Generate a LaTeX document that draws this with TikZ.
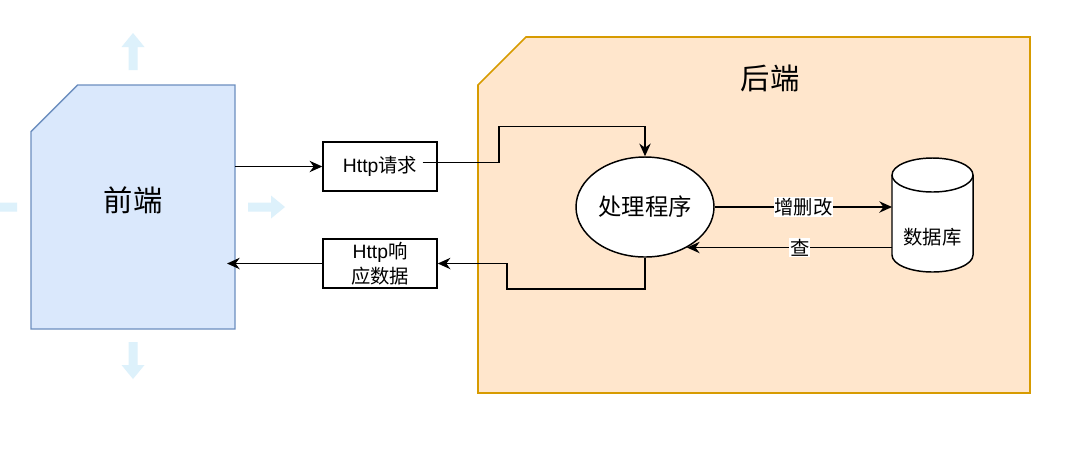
\documentclass[tikz,border=0pt]{standalone}
\usepackage{fontspec}
\setmainfont{Liberation Sans}
\newfontfamily\cjk{Noto Sans CJK SC}
\usetikzlibrary{shapes.geometric, arrows.meta, calc}
\usepackage{xcolor}
\definecolor{FrontFill}{HTML}{DAE8FC}
\definecolor{FrontLine}{HTML}{6C8EBF}
\definecolor{BackFill}{HTML}{FFE6CC}
\definecolor{BackLine}{HTML}{D79B00}
\definecolor{HoverBlue}{HTML}{DDF1FB}
\tikzset{
    % Card styles - one corner cut off
    cardspace/.style={
        rectangle,
        inner sep=0pt,
        outer sep=0pt
    },
    frontcard/.style={
        draw=FrontLine,
        fill=FrontFill,
        line width=1pt
    },
    backcard/.style={
        draw=BackLine,
        fill=BackFill,
        line width=1.2pt
    },
    title/.style={
        font={\cjk\fontsize{22}{26}\selectfont}
    },
    % Box styles
    message/.style={
        rectangle,
        draw=black,
        fill=white,
        line width=1.1pt,
        minimum width=85.5pt,
        minimum height=36.75pt,
        inner sep=1pt,
        align=center,
        font={\fontsize{14.5}{18.75}\selectfont}
    },
    handler/.style={
        ellipse,
        draw=black,
        fill=white,
        line width=1.1pt,
        minimum width=103.5pt,
        minimum height=75pt,
        inner sep=0pt,
        font={\cjk\fontsize{17.5}{21}\selectfont}
    },
    storage/.style={
        rectangle,
        minimum width=60.75pt,
        minimum height=85.5pt,
        inner sep=0pt,
        outer sep=0pt
    },
    plaintext/.style={
        font={\cjk\fontsize{14.5}{18}\selectfont}
    },
    edgelabel/.style={
        fill=white,
        inner sep=0.5pt,
        font={\cjk\fontsize{14.5}{18}\selectfont}
    },
    % Arrow styles
    arrow/.style={
        -{Stealth[length=9.5pt, width=8.5pt]},
        line width=1.15pt,
        draw=black
    },
    hoverarrow/.style={
        fill=HoverBlue
    }
}
\begin{document}
\begin{tikzpicture}[x=0.75pt, y=-0.75pt]
    \useasboundingbox[fill=white] (0,0) rectangle (1080,455);

    % back-end card
    \node[cardspace, minimum width=414pt, minimum height=267pt] (back) at (754,215) {};
    \filldraw[backcard] ([yshift=-36pt]back.north west) -- ([xshift=36pt]back.north west)
        -- (back.north east) -- (back.south east) -- (back.south west) -- cycle;
    \node[title] (backtitle) at (770,78) {后端};

    % editor hover arrows round the front card
    \foreach \pos/\ang in {{(133,70)}/90, {(248,207)}/0, {(133,342)}/-90, {(17,207)}/180}
        \fill[hoverarrow, shift={\pos}, rotate=\ang]
            (0,-4.5) -- (23,-4.5) -- (23,-11.5) -- (37,0) -- (23,11.5) -- (23,4.5) -- (0,4.5) -- cycle;

    % front-end card
    \node[cardspace, minimum width=153pt, minimum height=183pt] (front) at (133,207) {};
    \filldraw[frontcard] ([yshift=-35pt]front.north west) -- ([xshift=35pt]front.north west)
        -- (front.north east) -- (front.south east) -- (front.south west) -- cycle;
    \node[title] (frontname) at (133,200) {前端};

    \node[message] (req) at (380,166.5) {Http{\cjk 请求}};
    \node[message] (resp) at (380,263.5) {Http{\cjk 响}\\{\cjk 应数据}};

    \node[handler] (proc) at (645,207) {处理程序};

    % database cylinder
    \node[storage] (db) at (932.5,215) {};
    \draw[line width=1.1pt, fill=white]
        ([yshift=-12.75pt]db.north west) -- ([yshift=12.75pt]db.south west)
        arc[start angle=180, end angle=360, x radius=30.375pt, y radius=12.75pt]
        -- ([yshift=-12.75pt]db.north east)
        arc[start angle=0, end angle=180, x radius=30.375pt, y radius=12.75pt] -- cycle;
    \draw[line width=1.1pt]
        ([yshift=-12.75pt]db.north west)
        arc[start angle=180, end angle=360, x radius=30.375pt, y radius=12.75pt];
    \node[plaintext] (dbname) at ([yshift=-16.5pt]db.center) {数据库};

    \draw[arrow] (front.east |- req.west) -- (req.west);
    \draw[arrow] ([shift={(-15,-4)}]req.east) -| ++(76,-36) -| (proc.north);
    \draw[arrow] (proc.south) |- ++(-138,31) |- (resp.east);
    \draw[arrow] (resp.west) -- ($(front.east |- resp.west)+(-8,0)$);

    \draw[arrow] (proc.east) -- (db.west |- proc.east) node[edgelabel, midway] {增删改};
    \draw[arrow] (db.west |- proc.-44) -- (proc.-44) node[edgelabel, pos=0.45] {查};
\end{tikzpicture}
\end{document}
